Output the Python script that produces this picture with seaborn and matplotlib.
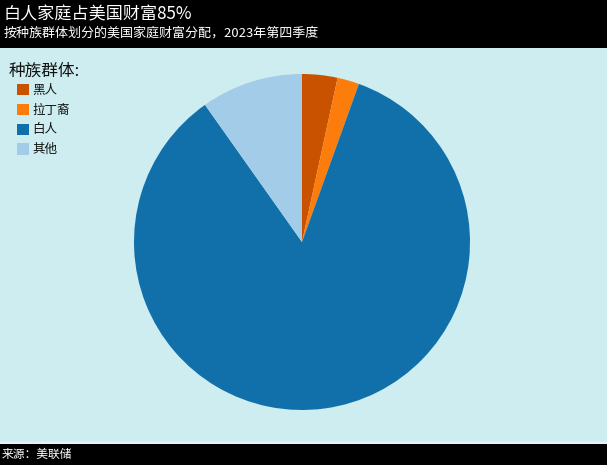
import matplotlib
matplotlib.use("Agg")
import matplotlib.pyplot as plt
import seaborn as sns
from matplotlib.patches import Rectangle

groups = ["黑人", "拉丁裔", "白人", "其他"]
shares = [3.4, 2.1, 84.7, 9.8]
colors = ["#c85200", "#fc7d0b", "#1170aa", "#a3cce9"]
title = "白人家庭占美国财富85%"
subtitle = "按种族群体划分的美国家庭财富分配，2023年第四季度"
legend_title = "种族群体:"
source = "来源：美联储"

sns.set_style("white")
plt.rcParams['font.family'] = ['Noto Sans CJK SC', 'DejaVu Sans']

W, H = 607, 465
fig = plt.figure(figsize=(W / 100, H / 100), dpi=100)
fig.patch.set_facecolor("black")

# cyan panel
panel = fig.add_axes([0, 1 - 442 / H, 1, (442 - 48) / H])
panel.set_facecolor("#cdedf0")
panel.set_xticks([]); panel.set_yticks([])
for s in panel.spines.values():
    s.set_visible(False)
fig.patches.append(Rectangle((0, 1 - 444 / H), 1, 2 / H, transform=fig.transFigure,
                             facecolor="#e8f2f3", edgecolor="none", zorder=5))

# pie axes: center (302,242), radius 168
cx, cy, r = 302, 242, 168
ax = fig.add_axes([(cx - r) / W, 1 - (cy + r) / H, 2 * r / W, 2 * r / H])
ax.set_facecolor("none")
wedges, _ = ax.pie(shares, colors=colors, startangle=90, counterclock=False,
                   radius=1.0, wedgeprops=dict(linewidth=0))
ax.set_xlim(-1, 1); ax.set_ylim(-1, 1)
ax.set_aspect("equal")
ax.axis("off")

leg = fig.legend(wedges, groups, loc="upper left",
                 bbox_to_anchor=(8 / W, 1 - 75 / H), frameon=False,
                 fontsize=9, handlelength=1.0, handleheight=1.0,
                 handletextpad=0.25, labelspacing=0.55, borderpad=0.2,
                 prop={"size": 9, "weight": "medium"})
for t in leg.get_texts():
    t.set_color("#111111")
fig.text(9 / W, 1 - 71 / H, legend_title, color="#111111", fontsize=12,
         fontweight="medium", va="center", ha="left")

fig.text(4 / W, 1 - 14 / H, title, color="white", fontsize=12.3, va="center", ha="left")
fig.text(4 / W, 1 - 33 / H, subtitle, color="white", fontsize=9.4, va="center", ha="left")
fig.text(2 / W, 1 - 454 / H, source, color="white", fontsize=8.5, va="center", ha="left")

fig.savefig("out.png", dpi=100, facecolor=fig.get_facecolor())
